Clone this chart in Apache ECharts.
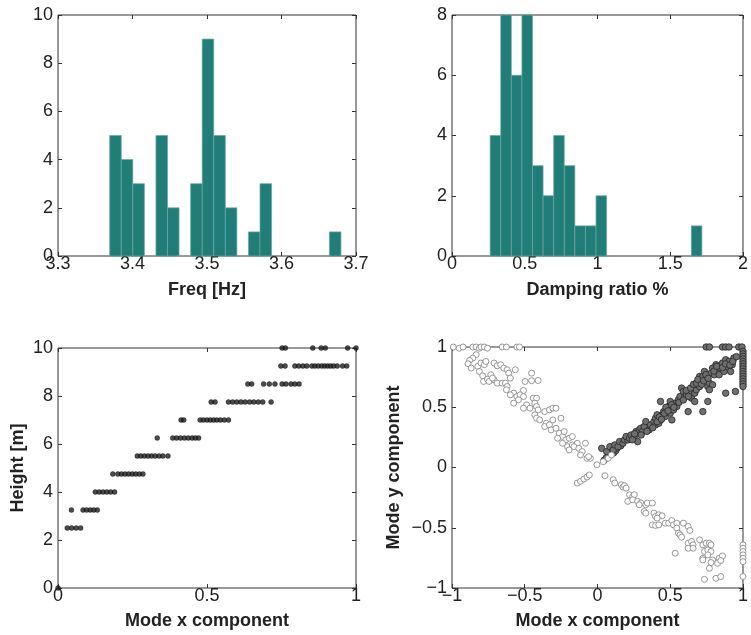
<!DOCTYPE html>
<html><head><meta charset="utf-8">
<script src="https://cdn.jsdelivr.net/npm/echarts@6/dist/echarts.min.js"></script>
<style>html,body{margin:0;padding:0;background:#fff}#c{width:751px;height:635px}</style>
</head><body><div id="c"></div>
<script>
// ---------- Data ----------
const freqBinStart = 3.3694, freqBinWidth = 0.01552;
const freqCounts = [5,4,3,0,5,2,0,3,9,5,2,0,1,3,0,0,0,0,0,1];
const dampBinStart = 0.2623, dampBinWidth = 0.07276;
const dampCounts = [4,8,6,8,3,2,4,3,1,1,2,0,0,0,0,0,0,0,0,1];

const heightLevels = [0, 2.5, 3.25, 4, 4.75, 5.5, 6.25, 7, 7.75, 8.5, 9.25, 10];
const modeXByLevel = [
  [0],
  [0.031,0.046,0.061,0.076],
  [0.045,0.084,0.096,0.108,0.120,0.132],
  [0.125,0.138,0.151,0.164,0.177,0.190],
  [0.184,0.201,0.213,0.225,0.237,0.249,0.261,0.273,0.285],
  [0.266,0.278,0.290,0.302,0.314,0.326,0.339,0.352,0.369],
  [0.333,0.385,0.398,0.411,0.424,0.437,0.450,0.461,0.472],
  [0.413,0.422,0.477,0.488,0.500,0.511,0.522,0.533,0.545,0.558,0.572],
  [0.514,0.527,0.572,0.586,0.600,0.614,0.628,0.643,0.657,0.672,0.687,0.715],
  [0.637,0.650,0.690,0.709,0.728,0.752,0.765,0.782,0.795,0.809],
  [0.748,0.762,0.795,0.808,0.822,0.835,0.852,0.862,0.873,0.885,0.895,0.905,0.915,0.925,0.937,0.955,0.969],
  [0.752,0.763,0.855,0.883,0.897,0.972,1.0]
];

const openModePoints = [
  [-0.991,1],[-0.951,0.99],[-0.924,1],[-0.857,1],[-0.834,1],[-0.812,0.99],[-0.800,1],[-0.778,1],[-0.756,0.99],[-0.655,1],[-0.626,1],[-0.554,1],[-0.536,1],
  [-0.834,0.936],[-0.857,0.908],[-0.879,0.889],[-0.890,0.861],[-0.868,0.825],[-0.823,0.839],[-0.801,0.867],[-0.778,0.853],[-0.767,0.880],
  [-0.812,0.797],[-0.789,0.761],[-0.783,0.714],[-0.756,0.733],[-0.733,0.770],[-0.745,0.714],[-0.711,0.867],[-0.689,0.844],[-0.666,0.853],
  [-0.644,0.825],[-0.621,0.811],[-0.610,0.783],[-0.565,0.811],[-0.599,0.742],[-0.711,0.728],[-0.689,0.700],[-0.722,0.742],[-0.655,0.700],
  [-0.633,0.700],[-0.621,0.672],[-0.626,0.645],[-0.509,0.639],[-0.498,0.714],[-0.453,0.720],[-0.408,0.722],[-0.453,0.783],[-0.576,0.617],
  [-0.599,0.603],[-0.554,0.589],[-0.532,0.603],[-0.509,0.589],[-0.543,0.562],[-0.576,0.534],[-0.487,0.520],[-0.509,0.492],[-0.464,0.492],
  [-0.442,0.575],[-0.419,0.575],[-0.431,0.534],[-0.419,0.506],[-0.408,0.478],[-0.431,0.437],[-0.419,0.409],[-0.397,0.395],[-0.363,0.464],
  [-0.330,0.478],[-0.307,0.492],[-0.285,0.492],[-0.352,0.367],[-0.363,0.340],[-0.330,0.354],[-0.307,0.395],[-0.251,0.409],[-0.319,0.312],
  [-0.285,0.326],[-0.262,0.284],[-0.240,0.257],[-0.274,0.243],[-0.229,0.298],[-0.218,0.229],[-0.195,0.243],[-0.173,0.257],[-0.240,0.201],
  [-0.206,0.173],[-0.173,0.187],[-0.195,0.146],[-0.139,0.201],[-0.162,0.173],[-0.128,0.159],[-0.083,0.201],[-0.105,0.132],[-0.117,0.104],
  [-0.072,0.076],[-0.049,0.076],[-0.061,0.090],[-0.004,0.023],
  [-0.139,-0.129],[-0.117,-0.115],[-0.094,-0.096],[-0.072,-0.079],[-0.056,-0.062],
  [0.040,0.048],[0.074,0.076],[0.096,0.104],
  [0.051,-0.068],[0.108,-0.101],[0.119,-0.129],[0.164,-0.143],[0.175,-0.162],[0.186,-0.151],[0.197,-0.171],[0.220,-0.226],[0.242,-0.240],
  [0.253,-0.226],[0.208,-0.281],[0.242,-0.268],[0.276,-0.281],[0.298,-0.295],[0.287,-0.309],[0.332,-0.309],[0.343,-0.295],[0.377,-0.295],
  [0.321,-0.365],[0.332,-0.379],[0.388,-0.379],[0.399,-0.406],[0.421,-0.392],[0.444,-0.401],[0.410,-0.420],[0.377,-0.476],[0.399,-0.481],
  [0.421,-0.476],[0.466,-0.462],[0.489,-0.462],[0.511,-0.440],[0.522,-0.476],[0.545,-0.462],[0.590,-0.462],[0.545,-0.503],[0.556,-0.545],
  [0.567,-0.559],[0.578,-0.578],[0.623,-0.489],[0.635,-0.523],[0.534,-0.711],[0.623,-0.628],[0.646,-0.614],[0.657,-0.642],[0.623,-0.670],
  [0.657,-0.670],[0.702,-0.600],[0.724,-0.642],[0.747,-0.628],[0.769,-0.628],[0.780,-0.642],[0.735,-0.697],[0.758,-0.684],[0.780,-0.697],
  [0.758,-0.725],[0.724,-0.753],[0.724,-0.767],[0.791,-0.767],[0.780,-0.789],[0.836,-0.753],[0.859,-0.734],[0.825,-0.795],[0.847,-0.772],
  [0.769,-0.836],[0.735,-0.928],[0.814,-0.919],[0.847,-0.905],
  [1,-0.642],[1,-0.670],[1,-0.697],[1,-0.725],[1,-0.753],[1,-0.781],[1,-0.905]
];

const filledModePoints = [
  [0.747,1],[0.769,1],[0.859,1],[0.881,1],[0.904,1],[0.971,1],[0.993,1],
  [1,0.964],[1,0.943],[1,0.922],[1,0.901],[1,0.880],[1,0.860],[1,0.839],[1,0.818],[1,0.797],[1,0.776],[1,0.756],[1,0.735],[1,0.714],[1,0.693],[1,0.672],
  [0.045,0.060],[0.060,0.080],[0.085,0.100],[0.110,0.120],[0.125,0.140],[0.135,0.160],[0.160,0.180],
  [0.029,0.159],[0.063,0.132],[0.085,0.173],[0.108,0.146],[0.119,0.187],[0.141,0.173],[0.152,0.215],[0.175,0.201],[0.186,0.229],[0.208,0.229],
  [0.197,0.257],[0.220,0.243],[0.231,0.270],[0.253,0.257],[0.276,0.215],[0.265,0.298],[0.287,0.312],[0.298,0.326],[0.309,0.298],[0.321,0.340],
  [0.332,0.381],[0.354,0.312],[0.365,0.354],[0.388,0.381],[0.399,0.409],[0.410,0.437],[0.399,0.354],[0.421,0.367],[0.433,0.395],[0.444,0.437],
  [0.466,0.423],[0.455,0.464],[0.478,0.478],[0.489,0.506],[0.500,0.451],[0.511,0.395],[0.522,0.478],[0.534,0.534],[0.500,0.548],[0.433,0.548],
  [0.545,0.506],[0.556,0.562],[0.567,0.589],[0.578,0.659],[0.590,0.631],[0.601,0.589],[0.612,0.603],[0.623,0.464],[0.635,0.617],[0.646,0.575],
  [0.657,0.659],[0.668,0.617],[0.679,0.645],[0.691,0.686],[0.702,0.672],[0.713,0.714],[0.702,0.756],[0.724,0.756],[0.735,0.797],[0.747,0.742],
  [0.758,0.672],[0.724,0.464],[0.758,0.548],[0.769,0.700],[0.780,0.783],[0.791,0.825],[0.803,0.770],[0.814,0.853],[0.825,0.811],[0.836,0.770],
  [0.847,0.825],[0.859,0.867],[0.870,0.797],[0.881,0.894],[0.892,0.839],[0.904,0.880],[0.915,0.797],[0.926,0.853],[0.937,0.908],[0.881,0.617],
  [0.948,0.631],[0.791,0.686],[0.769,0.645],[0.668,0.548],
  [0.240,0.230],[0.255,0.280],[0.300,0.270],[0.340,0.300],[0.380,0.330],[0.410,0.380],[0.425,0.420],[0.440,0.400],[0.460,0.450],
  [0.470,0.500],[0.485,0.470],[0.510,0.520],[0.525,0.500],[0.560,0.540],[0.590,0.560],[0.610,0.640],[0.625,0.590],[0.640,0.660],
  [0.660,0.690],[0.680,0.700],[0.690,0.730],[0.715,0.690],[0.730,0.720],[0.745,0.770],[0.760,0.740],[0.800,0.800],[0.820,0.840],
  [0.860,0.830],[0.880,0.860],[0.910,0.850],[0.930,0.880],[0.955,0.920]
];

// ---------- Chart ----------
const FONT = '"Liberation Sans", Arial, Helvetica, sans-serif';
const AX = '#333';
const TEAL = '#207d78';
const minusFmt = v => (v < 0 ? '\u2212' + Math.abs(v) : String(v));

function mainAxis(gi, min, max, interval, name, isY, nameGap, fmt) {
  return {
    type: 'value', gridIndex: gi, min, max, interval, name, nameLocation: 'middle', nameGap,
    position: isY ? 'left' : 'bottom',
    nameTextStyle: { fontFamily: FONT, fontSize: 18, fontWeight: 'bold', color: '#222' },
    axisLine: { show: false, onZero: false },
    axisTick: { show: true, inside: true, length: 4, lineStyle: { color: AX } },
    splitLine: { show: false },
    axisLabel: { fontFamily: FONT, fontSize: 18, color: '#222', margin: isY ? 5 : 1, lineHeight: isY ? 20 : 15,
                 formatter: fmt || minusFmt, showMinLabel: true, showMaxLabel: true }
  };
}
function mirrorAxis(gi, min, max, interval, isY) {
  return {
    type: 'value', gridIndex: gi, min, max, interval,
    position: isY ? 'right' : 'top',
    axisLine: { show: false, onZero: false },
    axisTick: { show: true, inside: true, length: 4, lineStyle: { color: AX } },
    splitLine: { show: false }, axisLabel: { show: false }
  };
}
function histSeries(gi, start, width, counts) {
  const data = [];
  counts.forEach((c, i) => { if (c > 0) data.push([start + i * width, start + (i + 1) * width, c]); });
  return {
    type: 'custom', xAxisIndex: 2 * gi, yAxisIndex: 2 * gi, data, encode: { x: [0, 1], y: 2 },
    renderItem(params, api) {
      const p0 = api.coord([api.value(0), 0]);
      const p1 = api.coord([api.value(1), api.value(2)]);
      return { type: 'rect', shape: { x: p0[0], y: p1[1], width: p1[0] - p0[0], height: p0[1] - p1[1] },
               style: { fill: TEAL, stroke: '#6aa8a4', lineWidth: 0.7 } };
    }
  };
}

const heightData = [];
heightLevels.forEach((h, i) => modeXByLevel[i].forEach(x => heightData.push([x, h])));

const gridBase = { show: true, borderColor: AX, borderWidth: 1, backgroundColor: 'transparent' };
const option = {
  animation: false,
  grid: [
    Object.assign({ left: 58, top: 15, width: 298, height: 241 }, gridBase),
    Object.assign({ left: 452, top: 15, width: 297, height: 241 }, gridBase),
    Object.assign({ left: 58, top: 348, width: 298, height: 240 }, gridBase),
    Object.assign({ left: 452, top: 347, width: 297, height: 241 }, gridBase)
  ],
  xAxis: [
    mainAxis(0, 3.3, 3.7, 0.1, 'Freq [Hz]', false, 25, v => v.toFixed(1)), mirrorAxis(0, 3.3, 3.7, 0.1, false),
    mainAxis(1, 0, 2, 0.5, 'Damping ratio %', false, 25), mirrorAxis(1, 0, 2, 0.5, false),
    mainAxis(2, 0, 1, 0.5, 'Mode x component', false, 24), mirrorAxis(2, 0, 1, 0.5, false),
    mainAxis(3, -1, 1, 0.5, 'Mode x component', false, 24), mirrorAxis(3, -1, 1, 0.5, false)
  ],
  yAxis: [
    mainAxis(0, 0, 10, 2, '', true, 30), mirrorAxis(0, 0, 10, 2, true),
    mainAxis(1, 0, 8, 2, '', true, 30), mirrorAxis(1, 0, 8, 2, true),
    mainAxis(2, 0, 10, 2, 'Height [m]', true, 31), mirrorAxis(2, 0, 10, 2, true),
    mainAxis(3, -1, 1, 0.5, 'Mode y component', true, 49), mirrorAxis(3, -1, 1, 0.5, true)
  ],
  series: [
    histSeries(0, freqBinStart, freqBinWidth, freqCounts),
    histSeries(1, dampBinStart, dampBinWidth, dampCounts),
    { type: 'scatter', xAxisIndex: 4, yAxisIndex: 4, data: heightData, symbol: 'circle', symbolSize: 5,
      itemStyle: { color: '#1e1e1e', borderColor: '#000', borderWidth: 0.4 }, clip: false },
    { type: 'scatter', xAxisIndex: 6, yAxisIndex: 6, data: filledModePoints, symbol: 'circle', symbolSize: 6.5,
      itemStyle: { color: '#6f6f6f', borderColor: '#262626', borderWidth: 0.8, opacity: 1 }, clip: false },
    { type: 'scatter', xAxisIndex: 6, yAxisIndex: 6, data: openModePoints, symbol: 'circle', symbolSize: 6,
      itemStyle: { color: '#ffffff', borderColor: '#8c8c8c', borderWidth: 0.9, opacity: 1 }, clip: false }
  ]
};
const chart = echarts.init(document.getElementById('c'), null, { renderer: 'canvas' });
chart.setOption(option);
</script></body></html>
